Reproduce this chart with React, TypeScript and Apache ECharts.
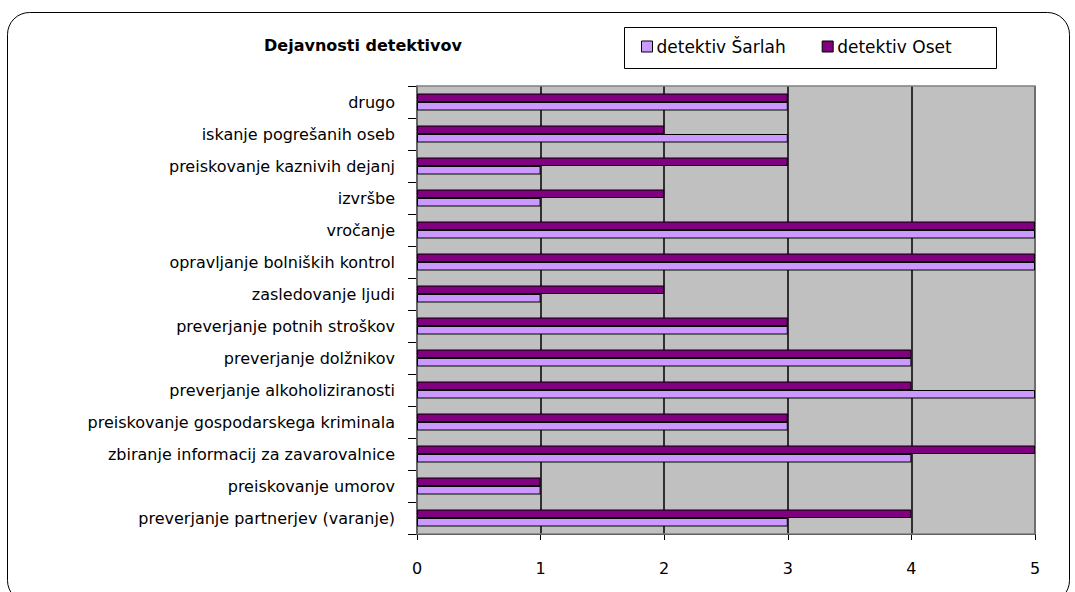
import React, { useEffect, useRef } from "react";
import * as echarts from "echarts";

const categories = [
  "drugo",
  "iskanje pogrešanih oseb",
  "preiskovanje kaznivih dejanj",
  "izvršbe",
  "vročanje",
  "opravljanje bolniških kontrol",
  "zasledovanje ljudi",
  "preverjanje potnih stroškov",
  "preverjanje dolžnikov",
  "preverjanje alkoholiziranosti",
  "preiskovanje gospodarskega kriminala",
  "zbiranje informacij za zavarovalnice",
  "preiskovanje umorov",
  "preverjanje partnerjev (varanje)",
];
const sarlah = [3, 3, 1, 1, 5, 5, 1, 3, 4, 5, 3, 4, 1, 3];
const oset = [3, 2, 3, 2, 5, 5, 2, 3, 4, 4, 3, 5, 1, 4];
const xTicks = [0, 1, 2, 3, 4, 5];

const FONT = "DejaVu Sans";

export default function App() {
  const ref = useRef<HTMLDivElement>(null);
  useEffect(() => {
    document.body.style.margin = "0";
    const chart = echarts.init(ref.current!, null, { renderer: "svg" });
    chart.setOption({
      animation: false,
      backgroundColor: "#ffffff",
      title: {
        text: "Dejavnosti detektivov",
        left: 358,
        top: 32,
        textAlign: "center",
        textStyle: { fontFamily: FONT, fontSize: 16, fontWeight: "bold", color: "#000" },
      },
      legend: {
        data: ["detektiv Šarlah", "detektiv Oset"],
        left: 641,
        top: 38,
        padding: 0,
        borderWidth: 0,
        itemWidth: 11,
        itemHeight: 11,
        itemGap: 36,
        icon: "rect",
        itemStyle: { borderColor: "#000", borderWidth: 1 },
        textStyle: { fontFamily: FONT, fontSize: 17, color: "#000", padding: [0, 0, 0, -1] },
      },
      graphic: [
        {
          type: "rect",
          shape: { x: 7.5, y: 12.5, width: 1062, height: 590, r: 22 },
          style: { fill: "none", stroke: "#000", lineWidth: 1 },
          z: 0,
        },
        {
          type: "rect",
          shape: { x: 624.5, y: 27.5, width: 372, height: 41 },
          style: { fill: "none", stroke: "#000", lineWidth: 1 },
          z: 0,
        },
        {
          type: "rect",
          shape: { x: 417, y: 86, width: 618, height: 448 },
          style: { fill: "none", stroke: "#808080", lineWidth: 1.5 },
          z: 1,
        },
      ],
      grid: { left: 417, top: 86, width: 618, height: 448, show: true, backgroundColor: "#C0C0C0", borderWidth: 0 },
      xAxis: {
        type: "value",
        min: 0,
        max: 5,
        interval: 1,
        axisLine: { show: true, lineStyle: { color: "#000", width: 1 } },
        axisTick: { show: true, length: 6, lineStyle: { color: "#000" } },
        splitLine: { show: true, lineStyle: { color: "#000", width: 1.5 } },
        axisLabel: {
          margin: 26,
          fontFamily: FONT,
          fontSize: 16,
          color: "#000",
          formatter: (v: number) => (xTicks.includes(v) ? String(v) : ""),
        },
      },
      yAxis: {
        type: "category",
        data: categories,
        inverse: true,
        axisLine: { show: true, lineStyle: { color: "#000", width: 1.5 } },
        axisTick: { show: true, length: 9, lineStyle: { color: "#000" } },
        axisLabel: { margin: 22, fontFamily: FONT, fontSize: 16, color: "#000" },
      },
      series: [
        {
          name: "detektiv Oset",
          type: "bar",
          data: oset,
          barWidth: 8.5,
          barGap: "0%",
          itemStyle: { color: "#800080", borderColor: "#000", borderWidth: 1 },
        },
        {
          name: "detektiv Šarlah",
          type: "bar",
          data: sarlah,
          barWidth: 8.5,
          barGap: "0%",
          itemStyle: { color: "#CC99FF", borderColor: "#000", borderWidth: 1 },
        },
      ],
    });
    return () => chart.dispose();
  }, []);
  return <div ref={ref} style={{ width: 1075, height: 592 }} />;
}
